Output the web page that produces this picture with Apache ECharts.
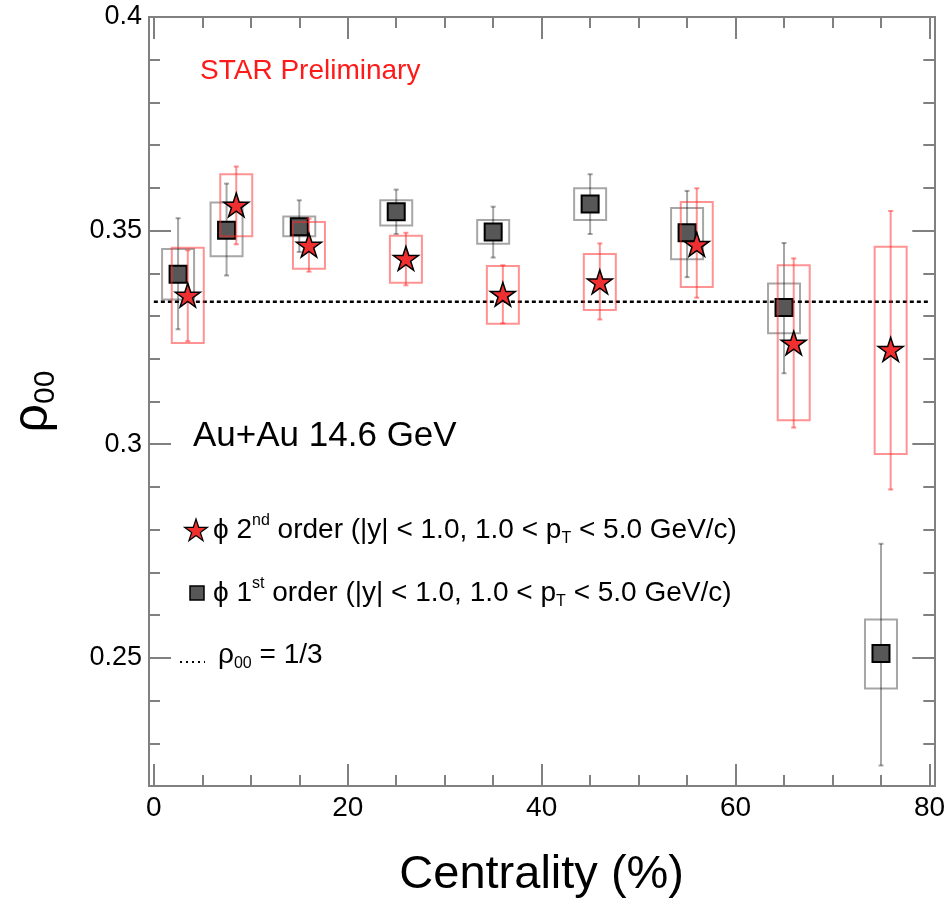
<!DOCTYPE html>
<html><head><meta charset="utf-8">
<script src="https://cdn.jsdelivr.net/npm/echarts@6/dist/echarts.min.js"></script>
<style>html,body{margin:0;padding:0;background:#fff}#c{width:948px;height:910px}</style>
</head><body><div id="c"></div>
<script>
// ---------- data ----------
const xMajorTicks = [0, 20, 40, 60, 80];
const xMinorTicks = [5, 10, 15, 25, 30, 35, 45, 50, 55, 65, 70, 75];
const yMajorTicks = [0.25, 0.3, 0.35, 0.4];
const yMinorTicks = [0.22, 0.23, 0.24, 0.26, 0.27, 0.28, 0.29, 0.31, 0.32, 0.33, 0.34, 0.36, 0.37, 0.38, 0.39];

// phi 2nd order (stars)
const starCent   = [3.5, 8.5, 16, 26, 36, 46, 56, 66, 76];
const starRho    = [0.3349, 0.3560, 0.3466, 0.3435, 0.3351, 0.3380, 0.3468, 0.3237, 0.3222];
const starStatLo = [0.3241, 0.3468, 0.3404, 0.3372, 0.3283, 0.3292, 0.3343, 0.3039, 0.2894];
const starStatHi = [0.3454, 0.3650, 0.3528, 0.3495, 0.3419, 0.3470, 0.3599, 0.3435, 0.3546];
const starSysLo  = [0.3237, 0.3487, 0.3411, 0.3378, 0.3282, 0.3314, 0.3368, 0.3056, 0.2977];
const starSysHi  = [0.3460, 0.3632, 0.3520, 0.3488, 0.3417, 0.3445, 0.3567, 0.3419, 0.3462];

// phi 1st order (squares)
const sqCent   = [2.5, 7.5, 15, 25, 35, 45, 55, 65, 75];
const sqRho    = [0.3398, 0.3501, 0.3509, 0.3544, 0.3497, 0.3562, 0.3495, 0.3320, 0.2510];
const sqStatLo = [0.3269, 0.3395, 0.3450, 0.3492, 0.3437, 0.3492, 0.3391, 0.3166, 0.2248];
const sqStatHi = [0.3529, 0.3610, 0.3571, 0.3596, 0.3556, 0.3632, 0.3593, 0.3471, 0.2767];
const sqSysLo  = [0.3339, 0.3440, 0.3487, 0.3512, 0.3469, 0.3525, 0.3433, 0.3260, 0.2428];
const sqSysHi  = [0.3457, 0.3566, 0.3533, 0.3571, 0.3525, 0.3599, 0.3553, 0.3376, 0.2590];

// reference line rho00 = 1/3
const refLineX = [0, 80];
const refLineY = [1/3, 1/3];

// ---------- styles ----------
const FONT = "'Liberation Sans', Arial, Helvetica, 'DejaVu Sans', sans-serif";
const AXIS_COLOR = '#808080';
const BOX_HALF = 1.65;
const STAR_PATH = 'path://M0,-10L2.245,-3.09L9.511,-3.09L3.633,1.18L5.878,8.09L0,3.82L-5.878,8.09L-3.633,1.18L-9.511,-3.09L-2.245,-3.09Z';

function boxRender(color) {
  return function (params, api) {
    const x = api.value(0), lo = api.value(1), hi = api.value(2);
    const p1 = api.coord([x - BOX_HALF, hi]);
    const p2 = api.coord([x + BOX_HALF, lo]);
    return {
      type: 'rect',
      shape: { x: p1[0], y: p1[1], width: p2[0] - p1[0], height: p2[1] - p1[1] },
      style: { fill: 'none', stroke: color, lineWidth: 2 }
    };
  };
}
function errRender(color) {
  return function (params, api) {
    const x = api.value(0), lo = api.value(1), hi = api.value(2);
    const t = api.coord([x, hi]), b = api.coord([x, lo]);
    const c = 2.5;
    const st = { stroke: color, lineWidth: 2 };
    return {
      type: 'group', children: [
        { type: 'line', shape: { x1: t[0], y1: t[1], x2: b[0], y2: b[1] }, style: st },
        { type: 'line', shape: { x1: t[0] - c, y1: t[1], x2: t[0] + c, y2: t[1] }, style: st },
        { type: 'line', shape: { x1: b[0] - c, y1: b[1], x2: b[0] + c, y2: b[1] }, style: st }
      ]
    };
  };
}

function xAx(pos, ticks, len, labels, extra) {
  return Object.assign({
    type: 'value', position: pos, min: -0.5, max: 80.5, gridIndex: 0,
    axisLine: { show: true, onZero: false, lineStyle: { color: AXIS_COLOR, width: 2 } },
    axisTick: { show: true, inside: true, length: len, customValues: ticks, lineStyle: { color: AXIS_COLOR, width: 2 } },
    axisLabel: labels ? { show: true, customValues: ticks, margin: 8, color: '#000', fontSize: 28, fontFamily: FONT } : { show: false },
    splitLine: { show: false }
  }, extra || {});
}
function yAx(pos, ticks, len, labels, extra) {
  return Object.assign({
    type: 'value', position: pos, min: 0.22, max: 0.40, gridIndex: 0,
    axisLine: { show: true, onZero: false, lineStyle: { color: AXIS_COLOR, width: 2 } },
    axisTick: { show: true, inside: true, length: len, customValues: ticks, lineStyle: { color: AXIS_COLOR, width: 2 } },
    axisLabel: labels ? { show: true, customValues: ticks, margin: 7, color: '#000', fontSize: 27, fontFamily: FONT } : { show: false },
    splitLine: { show: false }
  }, extra || {});
}

const starBoxData = starCent.map((x, i) => [x, starSysLo[i], starSysHi[i]]);
const starErrData = starCent.map((x, i) => [x, starStatLo[i], starStatHi[i]]);
const starPts = starCent.map((x, i) => [x, starRho[i]]);
const sqBoxData = sqCent.map((x, i) => [x, sqSysLo[i], sqSysHi[i]]);
const sqErrData = sqCent.map((x, i) => [x, sqStatLo[i], sqStatHi[i]]);
const sqPts = sqCent.map((x, i) => [x, sqRho[i]]);
const refLine = refLineX.map((x, i) => [x, refLineY[i]]);

function starPoints(cx, cy, R) {
  const pts = [];
  for (let k = 0; k < 10; k++) {
    const a = (-90 + k * 36) * Math.PI / 180;
    const r = k % 2 === 0 ? R : R * 0.382;
    pts.push([cx + r * Math.cos(a), cy + r * Math.sin(a)]);
  }
  return pts;
}

const legendRich = {
  a: { fontSize: 28, fontFamily: FONT, fill: '#000' },
  sup: { fontSize: 16, fontFamily: FONT, fill: '#000', padding: [0, 0, 18, 0] },
  sub: { fontSize: 16, fontFamily: FONT, fill: '#000', padding: [18, 0, 0, 0] }
};

const chart = echarts.init(document.getElementById('c'), null, { renderer: 'canvas' });
chart.setOption({
  animation: false,
  backgroundColor: '#fff',
  grid: { left: 145, right: 11, top: 17, bottom: 124, containLabel: false },
  xAxis: [
    xAx('bottom', xMajorTicks, 22, true, {
      name: 'Centrality (%)', nameLocation: 'middle', nameGap: 66,
      nameTextStyle: { fontSize: 47, fontFamily: FONT, color: '#000' }
    }),
    xAx('bottom', xMinorTicks, 11, false),
    xAx('top', xMajorTicks, 22, false),
    xAx('top', xMinorTicks, 11, false)
  ],
  yAxis: [
    yAx('left', yMajorTicks, 22, true, {
      name: '{r|ρ}{s|00}', nameLocation: 'middle', nameGap: 88, nameRotate: 90,
      nameTextStyle: {
        color: '#000',
        rich: {
          r: { fontSize: 50, fontFamily: FONT, color: '#000' },
          s: { fontSize: 30, fontFamily: FONT, color: '#000', padding: [26, 0, 0, 0] }
        }
      }
    }),
    yAx('left', yMinorTicks, 11, false),
    yAx('right', yMajorTicks, 22, false),
    yAx('right', yMinorTicks, 11, false)
  ],
  series: [
    { type: 'line', data: refLine, xAxisIndex: 0, yAxisIndex: 0, symbol: 'none', silent: true,
      lineStyle: { color: '#000', width: 2.5, type: [4, 3] }, z: 1 },
    { type: 'custom', data: sqBoxData, renderItem: boxRender('rgba(0,0,0,0.35)'), encode: { x: 0, y: [1, 2] }, z: 2 },
    { type: 'custom', data: sqErrData, renderItem: errRender('rgba(0,0,0,0.35)'), encode: { x: 0, y: [1, 2] }, z: 2 },
    { type: 'scatter', data: sqPts, symbol: 'rect', symbolSize: 17,
      itemStyle: { color: '#575757', borderColor: '#000', borderWidth: 2, opacity: 1 }, z: 3 },
    { type: 'custom', data: starBoxData, renderItem: boxRender('rgba(255,40,40,0.5)'), encode: { x: 0, y: [1, 2] }, z: 4 },
    { type: 'custom', data: starErrData, renderItem: errRender('rgba(255,40,40,0.5)'), encode: { x: 0, y: [1, 2] }, z: 4 },
    { type: 'scatter', data: starPts, symbol: STAR_PATH, symbolSize: 25, symbolKeepAspect: true,
      itemStyle: { color: '#f03030', borderColor: '#000', borderWidth: 1.5, opacity: 1 }, z: 5 }
  ],
  graphic: [
    { type: 'text', left: 200, top: 57, style: { text: 'STAR Preliminary', fontSize: 28, fontFamily: FONT, fill: '#ff1a1a' } },
    { type: 'text', left: 193, top: 419, style: { text: 'Au+Au 14.6 GeV', fontSize: 35, fontFamily: FONT, fill: '#000' } },
    { type: 'polygon', shape: { points: starPoints(196, 531, 12) }, style: { fill: '#f03030', stroke: '#000', lineWidth: 1.2 } },
    { type: 'text', x: 213, y: 530, style: { text: '{a|ϕ 2}{sup|nd}{a| order (|y| < 1.0, 1.0 < p}{sub|T}{a| < 5.0 GeV/c)}', rich: legendRich, verticalAlign: 'middle', align: 'left' } },
    { type: 'rect', shape: { x: 190, y: 586, width: 14, height: 14 }, style: { fill: '#575757', stroke: '#000', lineWidth: 1.5 } },
    { type: 'text', x: 213, y: 593, style: { text: '{a|ϕ 1}{sup|st}{a| order (|y| < 1.0, 1.0 < p}{sub|T}{a| < 5.0 GeV/c)}', rich: legendRich, verticalAlign: 'middle', align: 'left' } },
    { type: 'line', shape: { x1: 180, y1: 662, x2: 205, y2: 662 }, style: { stroke: '#000', lineWidth: 2, lineDash: [2, 4] } },
    { type: 'text', x: 218, y: 655, style: { text: '{a|ρ}{sub|00}{a| = 1/3}', rich: legendRich, verticalAlign: 'middle', align: 'left' } }
  ]
});
</script>
</body></html>
